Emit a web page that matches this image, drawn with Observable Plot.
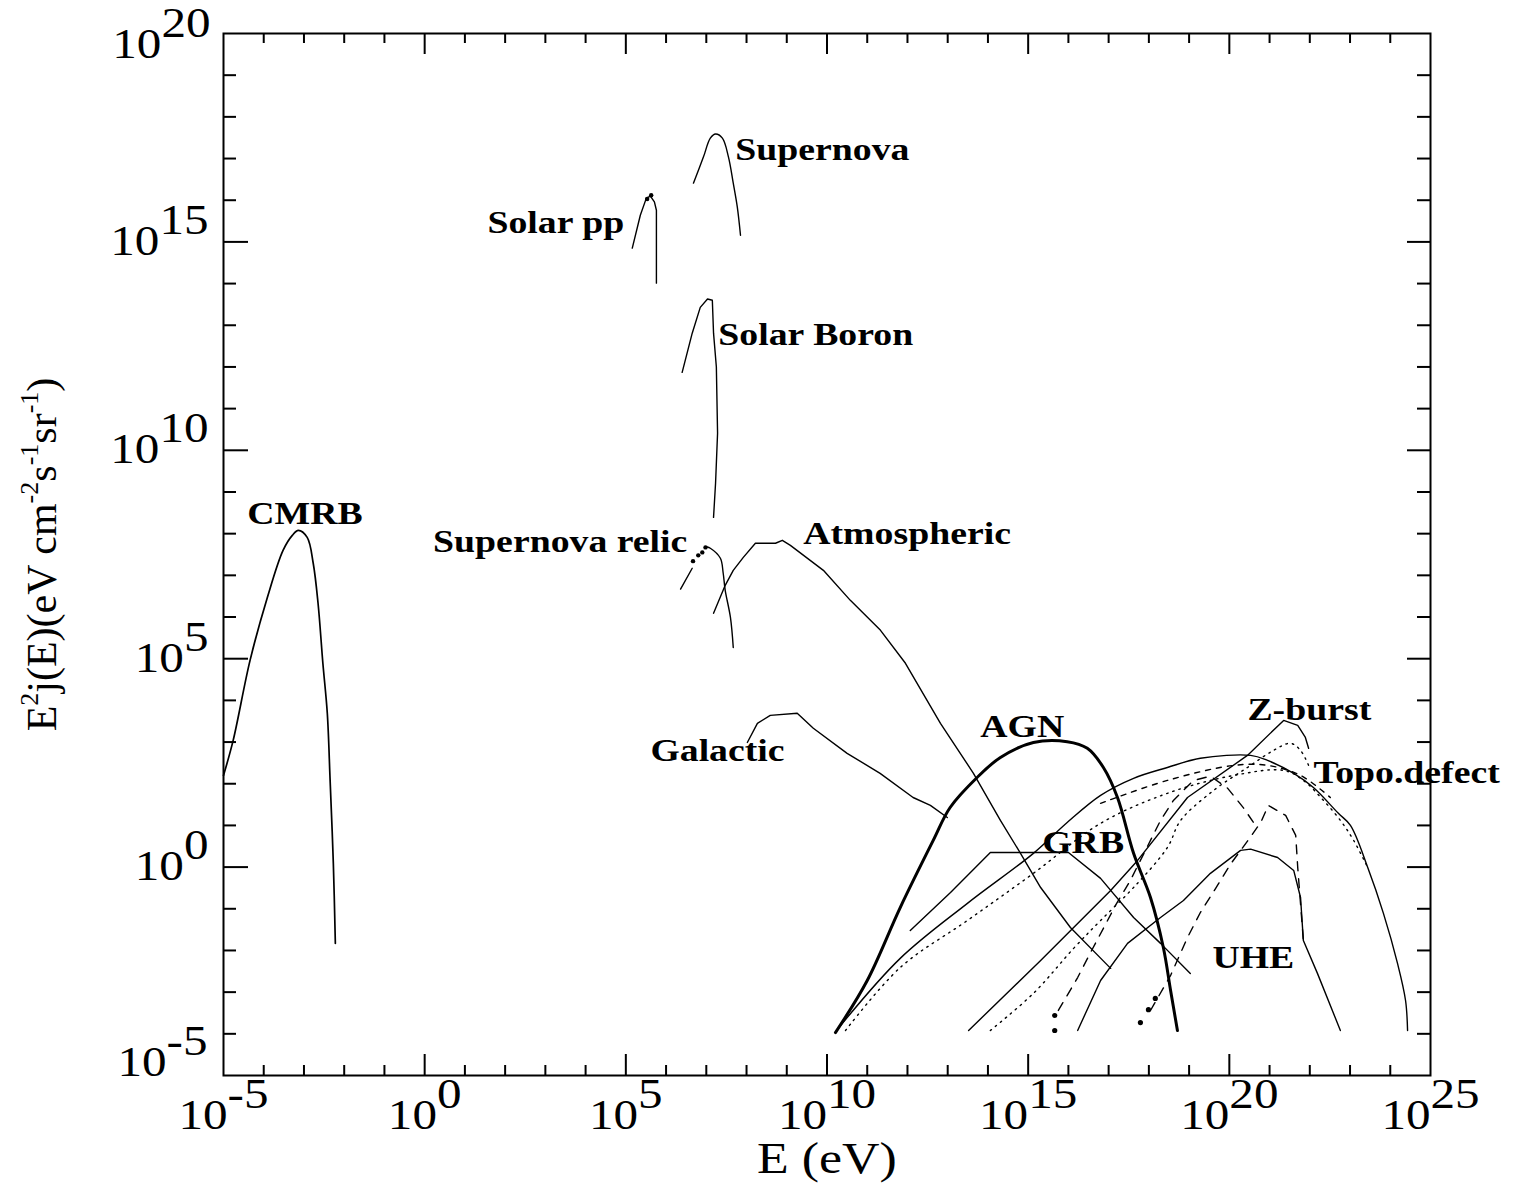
<!DOCTYPE html>
<html><head><meta charset="utf-8">
<script src="https://cdn.jsdelivr.net/npm/d3@7"></script>
<script src="https://cdn.jsdelivr.net/npm/@observablehq/plot@0.6"></script>
<style>body{margin:0;background:#fff}#chart svg{display:block}</style>
</head><body><div id="chart"></div>
<script>
// ---- data: [log10 E (eV), log10 E^2 j(E)] ----
const cmrb = [[-5.0,2.2],[-4.76,3.04],[-4.34,4.96],[-3.91,6.47],[-3.52,7.60],[-3.29,7.96],[-3.14,8.08],[-2.92,7.91],[-2.77,7.29],[-2.65,6.33],[-2.53,4.89],[-2.42,3.69],[-2.35,2.08],[-2.27,0.09],[-2.22,-1.83]];
const solarPP = [[5.16,14.85],[5.36,15.64],[5.51,16.05],[5.61,16.10],[5.71,15.96],[5.76,15.76],[5.76,14.01]];
const solarPPDots = [[5.53,16.03],[5.63,16.12]];
const supernova = [[6.68,16.41],[6.93,17.04],[7.10,17.49],[7.23,17.59],[7.40,17.49],[7.55,17.04],[7.67,16.41],[7.77,15.84],[7.85,15.16]];
const solarBoron = [[6.40,11.87],[6.65,12.81],[6.85,13.43],[7.03,13.63],[7.15,13.60],[7.18,12.81],[7.25,12.00],[7.28,10.41],[7.23,9.21],[7.18,8.39]];
const relicLow = [[6.36,6.67],[6.65,7.17]];
const relicDots = [[6.67,7.34],[6.80,7.48],[6.90,7.55],[6.98,7.67]];
const relicHigh = [[7.02,7.68],[7.10,7.65],[7.35,7.41],[7.42,7.05],[7.47,6.64],[7.60,5.99],[7.67,5.27]];
const atmospheric = [[7.18,6.09],[7.47,6.76],[7.67,7.12],[7.92,7.43],[8.22,7.77],[8.72,7.77],[8.89,7.84],[9.09,7.72],[9.91,7.12],[10.58,6.40],[11.33,5.68],[11.95,4.89],[12.82,3.45],[13.64,2.25],[14.31,1.12],[14.81,0.33],[15.31,-0.49],[16.05,-1.45],[17.05,-2.43]];
const galactic = [[8.02,2.99],[8.27,3.45],[8.59,3.64],[9.26,3.69],[9.66,3.33],[10.50,2.73],[11.32,2.25],[12.14,1.67],[12.57,1.48],[12.99,1.19]];
const agn = [[10.21,-3.97],[11.00,-2.72],[11.82,-0.97],[12.64,0.64],[13.06,1.43],[13.73,2.15],[14.31,2.63],[15.13,2.99],[15.97,3.01],[16.47,2.85],[16.87,2.39],[17.22,1.67],[17.62,0.33],[18.04,-0.73],[18.36,-1.93],[18.54,-2.96],[18.71,-3.92]];
const grb = [[12.07,-1.52],[13.07,-0.61],[14.06,0.35],[16.00,0.35],[16.80,-0.27],[17.62,-1.21],[18.29,-1.83],[19.03,-2.55]];
const uhe = [[16.23,-3.92],[16.80,-2.72],[17.47,-1.83],[18.29,-1.21],[18.86,-0.80],[19.53,-0.15],[20.28,0.40],[20.53,0.43],[21.20,0.23],[21.60,-0.08],[21.77,-0.73],[21.84,-1.76],[22.19,-2.55],[22.76,-3.92]];
const topoSolid = [[10.28,-3.87],[11.82,-2.19],[13.49,-0.87],[15.13,0.33],[15.97,1.07],[16.80,1.72],[17.62,2.13],[18.46,2.39],[19.28,2.61],[20.53,2.68],[20.95,2.56],[21.60,2.25],[22.09,1.91],[22.71,1.29],[23.01,1.00],[23.44,-0.01],[23.83,-1.11],[24.18,-2.31],[24.38,-3.20],[24.43,-3.92]];
const topoDotted = [[10.46,-3.92],[11.82,-2.41],[13.49,-1.28],[15.13,-0.15],[16.80,1.05],[18.46,1.77],[20.11,2.20],[21.35,2.32],[21.84,2.08],[22.34,1.60],[22.76,1.12],[23.09,0.64],[23.44,-0.01]];
const topoDashed = [[16.80,1.53],[18.46,2.08],[20.11,2.44],[20.95,2.44],[21.77,2.20],[22.51,1.67]];
const zburst = [[13.52,-3.92],[15.31,-2.24],[17.05,-0.56],[17.72,0.16],[18.96,1.67],[20.45,2.68],[21.35,3.52],[21.70,3.40],[21.89,3.11],[21.97,2.85]];
const zburstDotted = [[14.06,-3.92],[15.13,-3.03],[16.13,-1.95],[16.80,-1.28],[17.62,-0.49],[18.46,0.47],[18.79,1.12],[19.61,1.84],[20.45,2.39],[21.10,2.80],[21.52,2.97],[21.77,2.80],[21.97,2.44]];
const dashA = [[15.75,-3.44],[16.23,-2.65],[16.55,-2.05],[16.87,-1.47],[17.17,-0.92],[17.54,-0.32],[18.29,1.12],[18.61,1.60],[19.11,2.08],[19.53,2.18],[19.96,1.89],[20.36,1.41],[20.65,1.00]];
const dashB = [[18.04,-3.44],[18.54,-2.60],[18.96,-1.69],[19.28,-1.09],[19.66,-0.51],[20.03,0.07],[20.41,0.57],[20.78,1.07],[20.97,1.48],[21.40,1.24],[21.65,0.76],[21.70,-0.01],[21.84,-1.76]];
const blobs = [[15.66,-3.56],[15.66,-3.92],[17.79,-3.73],[17.99,-3.42],[18.16,-3.15]];

const labelNames = ["CMRB","Supernova","Solar pp","Solar Boron","Supernova relic","Atmospheric","Galactic","AGN","GRB","UHE","Z-burst","Topo.defect"];
const labelAt = [[-4.41,8.23],[7.72,16.96],[1.56,15.21],[7.30,12.52],[0.21,7.55],[9.41,7.75],[5.61,2.54],[13.81,3.11],[15.35,0.35],[19.58,-2.41],[20.45,3.54],[22.09,2.01]];

const xTickExp = d3.range(-4, 25);       // -4 .. 24
const xMajorExp = [-5, 0, 5, 10, 15, 20, 25];
const yTickExp = d3.range(-4, 20);       // -4 .. 19
const yMajorExp = [-5, 0, 5, 10, 15, 20];
const xTitle = "E (eV)";
const yTitle = "E^{2}j(E)(eV cm^{-2}s^{-1}sr^{-1})";

// ---- layout ----
const W = 1516, H = 1184, mL = 223, mR = 86, mT = 33, mB = 109;
const FW = W - mL - mR, FH = H - mT - mB;
const P = d => 10 ** d[0], Q = d => 10 ** d[1];
const thin = 1.4;
const ln = (data, o = {}) => Plot.line(data, {x: P, y: Q, stroke: "black", strokeWidth: thin, curve: "linear", ...o});
const labels = labelNames.map((n, i) => ({n, x: labelAt[i][0], y: labelAt[i][1]}));
const TF = 42;

const chart = Plot.plot({
  width: W, height: H, marginLeft: mL, marginRight: mR, marginTop: mT, marginBottom: mB,
  x: {type: "log", domain: [1e-5, 1e25], axis: null},
  y: {type: "log", domain: [1e-5, 1e20], axis: null},
  style: {background: "white", fontFamily: "'Liberation Serif','Times New Roman',serif", color: "black"},
  marks: [
    // ticks (inward, all four sides)
    Plot.ruleX(xTickExp.filter(d => d % 5), {x: d => 10 ** d, insetTop: FH - 10, strokeWidth: 2}),
    Plot.ruleX(xTickExp.filter(d => !(d % 5)), {x: d => 10 ** d, insetTop: FH - 21, strokeWidth: 2}),
    Plot.ruleX(xTickExp.filter(d => d % 5), {x: d => 10 ** d, insetBottom: FH - 10, strokeWidth: 2}),
    Plot.ruleX(xTickExp.filter(d => !(d % 5)), {x: d => 10 ** d, insetBottom: FH - 21, strokeWidth: 2}),
    Plot.ruleY(yTickExp.filter(d => d % 5), {y: d => 10 ** d, insetRight: FW - 13, strokeWidth: 2}),
    Plot.ruleY(yTickExp.filter(d => !(d % 5)), {y: d => 10 ** d, insetRight: FW - 25, strokeWidth: 2}),
    Plot.ruleY(yTickExp.filter(d => d % 5), {y: d => 10 ** d, insetLeft: FW - 13, strokeWidth: 2}),
    Plot.ruleY(yTickExp.filter(d => !(d % 5)), {y: d => 10 ** d, insetLeft: FW - 23, strokeWidth: 2}),
    Plot.frame({stroke: "black", strokeWidth: 2}),
    // curves
    ln(cmrb, {strokeWidth: 1.7, curve: "catmull-rom"}),
    ln(solarPP),
    Plot.dot(solarPPDots, {x: P, y: Q, r: 2.2, fill: "black"}),
    ln(supernova, {curve: "catmull-rom"}),
    ln(solarBoron),
    ln(relicLow),
    Plot.dot(relicDots, {x: P, y: Q, r: 2.2, fill: "black"}),
    ln(relicHigh, {curve: "catmull-rom"}),
    ln(atmospheric),
    ln(galactic),
    ln(agn, {strokeWidth: 3, curve: "catmull-rom"}),
    ln(grb),
    ln(uhe),
    ln(topoSolid, {curve: "catmull-rom"}),
    ln(topoDotted, {curve: "catmull-rom", strokeDasharray: "1.5,5"}),
    ln(topoDashed, {curve: "catmull-rom", strokeDasharray: "5,6"}),
    ln(zburst),
    ln(zburstDotted, {curve: "catmull-rom", strokeDasharray: "1.5,5"}),
    ln(dashA, {strokeDasharray: "9,8"}),
    ln(dashB, {strokeDasharray: "9,8"}),
    Plot.dot(blobs, {x: P, y: Q, r: 2.6, fill: "black"}),
    // curve labels
    Plot.text(labels, {x: d => 10 ** d.x, y: d => 10 ** d.y, text: "n", textAnchor: "start", lineAnchor: "bottom",
      fontSize: 32, fontWeight: "bold", fill: "black", ariaLabel: () => "stretch"}),
    // tick labels
    Plot.text(xMajorExp, {x: d => 10 ** d, frameAnchor: "bottom", text: d => `10^{${d}}`, lineAnchor: "bottom", textAnchor: "middle",
      dy: 53, fontSize: TF, fill: "black", ariaLabel: () => "ticklabel"}),
    Plot.text(yMajorExp.filter(d => d > -5 && d < 20), {y: d => 10 ** d, frameAnchor: "left", text: d => `10^{${d}}`,
      textAnchor: "end", lineAnchor: "bottom", dx: -15, dy: 13, fontSize: TF, fill: "black", ariaLabel: () => "ticklabel"}),
    Plot.text([20], {y: d => 10 ** d, frameAnchor: "left", text: d => `10^{${d}}`,
      textAnchor: "end", lineAnchor: "bottom", dx: -13, dy: 24, fontSize: TF, fill: "black", ariaLabel: () => "ticklabel"}),
    Plot.text([-5], {y: d => 10 ** d, frameAnchor: "left", text: d => `10^{${d}}`,
      textAnchor: "end", lineAnchor: "bottom", dx: -16, dy: 0, fontSize: TF, fill: "black", ariaLabel: () => "ticklabel"}),
    // axis titles
    Plot.text([xTitle], {frameAnchor: "bottom", text: d => d, textAnchor: "middle", lineAnchor: "bottom", dy: 97, fontSize: 44, fill: "black", ariaLabel: () => "stretch"}),
    Plot.text([yTitle], {frameAnchor: "left", text: d => d, textAnchor: "middle", rotate: -90, lineAnchor: "bottom", dx: -168, fontSize: 42, fill: "black", ariaLabel: () => "ytitle"})
  ]
});
document.getElementById("chart").append(chart);

// superscript markup -> tspans
const NS = "http://www.w3.org/2000/svg";
function rich(t, shift, supSize) {
  const s = t.textContent;
  if (!s.includes("^{")) return;
  const parts = [], re = /\^\{([^}]*)\}/g; let last = 0, m;
  while ((m = re.exec(s))) { if (m.index > last) parts.push([s.slice(last, m.index), false]); parts.push([m[1], true]); last = re.lastIndex; }
  if (last < s.length) parts.push([s.slice(last), false]);
  t.textContent = "";
  let up = false;
  for (const [str, sup] of parts) {
    const ts = document.createElementNS(NS, "tspan");
    ts.textContent = str;
    if (sup && !up) { ts.setAttribute("dy", -shift); up = true; }
    else if (!sup && up) { ts.setAttribute("dy", shift); up = false; }
    if (sup && supSize) ts.setAttribute("font-size", supSize);
    t.appendChild(ts);
  }
}
function stretch(t, k) {
  const L = t.getComputedTextLength();
  t.setAttribute("textLength", L * k);
  t.setAttribute("lengthAdjust", "spacingAndGlyphs");
}
const sel = name => chart.querySelectorAll(`text[aria-label="${name}"], g[aria-label="${name}"] > text`);
sel("ticklabel").forEach(t => { rich(t, 21); stretch(t, 1.17); });
sel("stretch").forEach(t => stretch(t, 1.18));
sel("ytitle").forEach(t => rich(t, 18, 26));
chart.querySelectorAll("text").forEach(t => { if (t.textContent.includes("^{")) rich(t, 18, 26); });
</script></body></html>
